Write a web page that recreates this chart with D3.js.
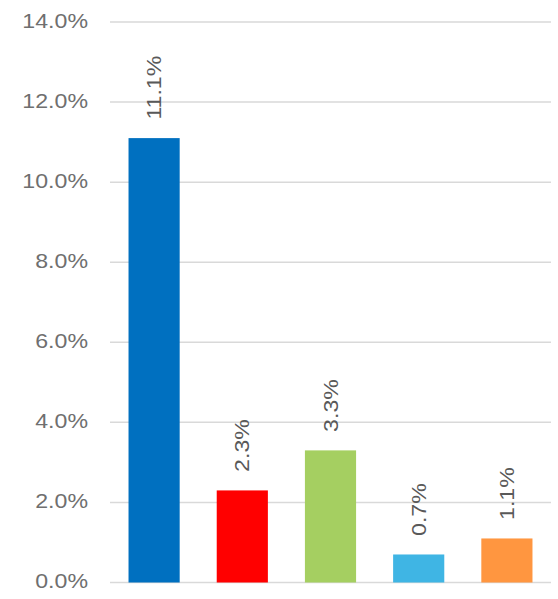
<!DOCTYPE html>
<html>
<head>
<meta charset="utf-8">
<script src="https://cdn.jsdelivr.net/npm/d3@7"></script>
<style>
  body { margin: 0; background: #fff; }
  text { font-family: Arial, "Liberation Sans", sans-serif; }
</style>
</head>
<body>
<script>
const categories = ['A', 'B', 'C', 'D', 'E'];
const values = [11.1, 2.3, 3.3, 0.7, 1.1];
const colors = ['#0070C0', '#FF0000', '#A5CF61', '#3FB5E4', '#FF9640'];
const yTicks = [0, 2, 4, 6, 8, 10, 12, 14];

const width = 558, height = 599;

const svg = d3.select('body').append('svg')
  .attr('width', width)
  .attr('height', height);

const x = d3.scaleBand()
  .domain(categories)
  .range([110, 551])
  .paddingInner(0.42)
  .paddingOuter(0.21);

const y = d3.scaleLinear()
  .domain([0, 14])
  .range([582.5, 22]);

// gridlines
svg.append('g')
  .selectAll('line')
  .data(yTicks)
  .enter().append('line')
  .attr('x1', 110)
  .attr('x2', 551)
  .attr('y1', d => y(d))
  .attr('y2', d => y(d))
  .attr('stroke', '#d9d9d9')
  .attr('stroke-width', 1.5);

// y tick labels
svg.append('g')
  .selectAll('text')
  .data(yTicks)
  .enter().append('text')
  .attr('transform', d => 'translate(88,' + (y(d) + 5.5) + ') scale(1.13,1)')
  .attr('text-anchor', 'end')
  .style('font-size', '20.5px')
  .style('fill', '#6f6f6f')
  .text(d => d.toFixed(1) + '%');

// bars
svg.append('g')
  .selectAll('rect')
  .data(values)
  .enter().append('rect')
  .attr('x', (d, i) => x(categories[i]))
  .attr('width', x.bandwidth())
  .attr('y', d => y(d))
  .attr('height', d => y(0) - y(d))
  .attr('fill', (d, i) => colors[i]);

// data labels
svg.append('g')
  .selectAll('text')
  .data(values)
  .enter().append('text')
  .attr('transform', (d, i) => 'translate(' + (x(categories[i]) + x.bandwidth() / 2 + 7) + ',' + (y(d) - 18.5) + ') rotate(-90) scale(1.13,1)')
  .attr('text-anchor', 'start')
  .style('font-size', '20.5px')
  .style('fill', '#595959')
  .text(d => d.toFixed(1) + '%');
</script>
</body>
</html>
